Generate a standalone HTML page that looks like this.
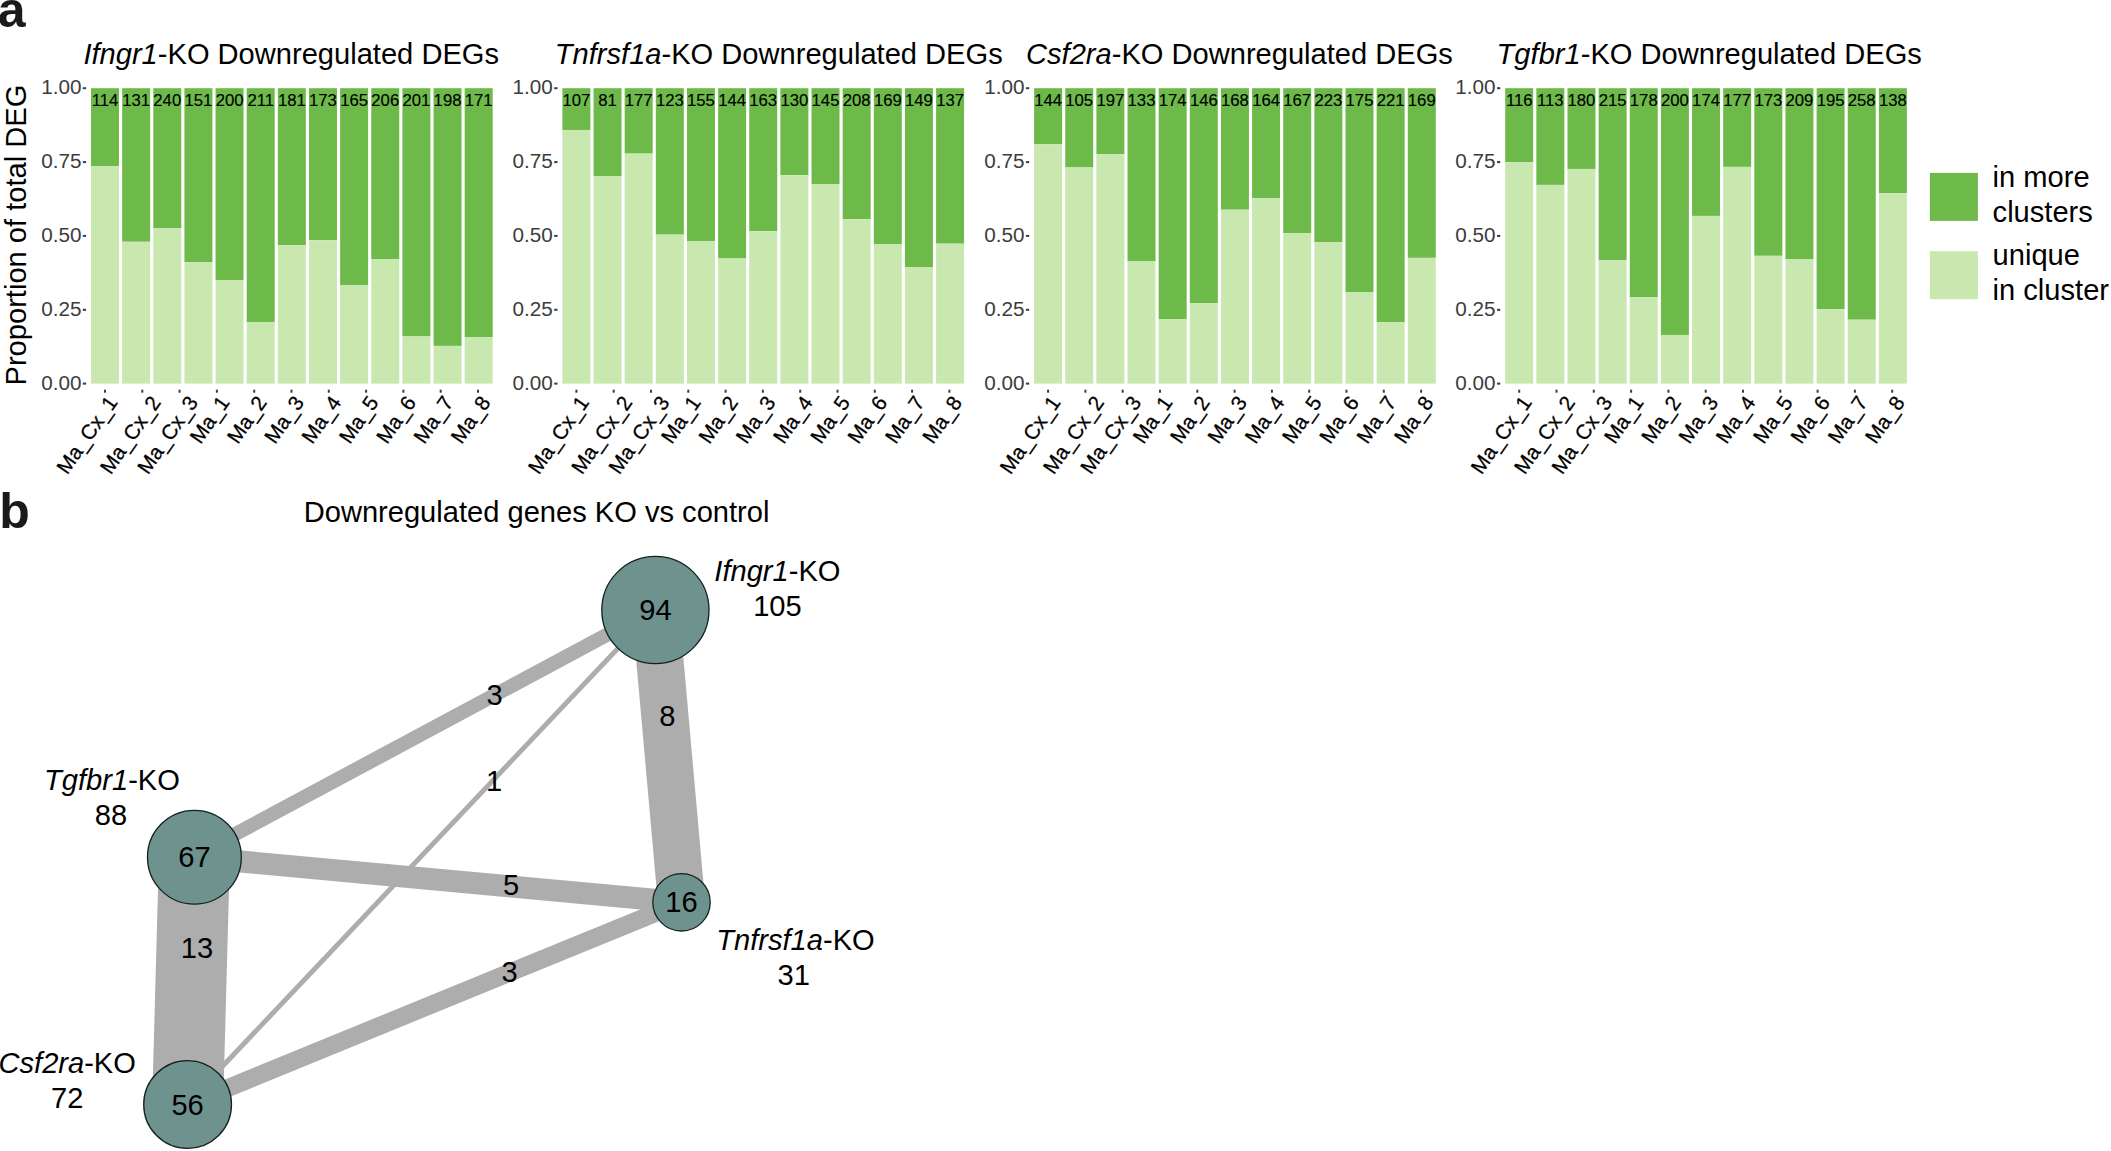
<!DOCTYPE html>
<html lang="en"><head><meta charset="utf-8"><title>Figure</title>
<style>
html,body{margin:0;padding:0;background:#fff;}
body{width:2111px;height:1151px;overflow:hidden;}
svg{display:block;font-family:"Liberation Sans", Arial, Helvetica, sans-serif;}
.t{font-size:29.1px;fill:#000;}
.i{font-style:italic;}
.yl{font-size:20.7px;fill:#3d3d3d;text-anchor:end;}
.c{font-size:16.7px;fill:#000;stroke:#000;stroke-width:0.15px;text-anchor:middle;}
.xl{font-size:20.8px;fill:#000;stroke:#000;stroke-width:0.25px;text-anchor:end;}
.pl{font-size:50px;font-weight:bold;fill:#1a1a1a;}
.lg{font-size:29.1px;fill:#000;}
.n{font-size:29.1px;fill:#000;text-anchor:middle;}
</style></head><body>
<svg width="2111" height="1151" viewBox="0 0 2111 1151">
<rect x="0" y="0" width="2111" height="1151" fill="#ffffff"/>
<text class="pl" x="-2.3" y="26.8">a</text>
<text class="pl" x="-0.8" y="528.1">b</text>
<text class="t" transform="translate(26.3,235.1) rotate(-90)" text-anchor="middle">Proportion of total DEG</text>
<g>
<text class="t" x="83.4" y="63.8"><tspan class="i">Ifngr1</tspan>-KO Downregulated DEGs</text>
<text class="yl" x="81.4" y="389.6">0.00</text>
<rect x="82.8" y="382.6" width="3.3" height="2" fill="#3d3d3d"/>
<text class="yl" x="81.4" y="315.8">0.25</text>
<rect x="82.8" y="308.8" width="3.3" height="2" fill="#3d3d3d"/>
<text class="yl" x="81.4" y="241.9">0.50</text>
<rect x="82.8" y="234.9" width="3.3" height="2" fill="#3d3d3d"/>
<text class="yl" x="81.4" y="168.1">0.75</text>
<rect x="82.8" y="161.1" width="3.3" height="2" fill="#3d3d3d"/>
<text class="yl" x="81.4" y="94.2">1.00</text>
<rect x="82.8" y="87.2" width="3.3" height="2" fill="#3d3d3d"/>
<rect x="91.00" y="88.20" width="28.00" height="77.79" fill="#6dba4a"/>
<rect x="91.00" y="165.99" width="28.00" height="217.61" fill="#c9e8b0"/>
<text class="c" x="105.00" y="106">114</text>
<rect x="122.14" y="88.20" width="28.00" height="153.56" fill="#6dba4a"/>
<rect x="122.14" y="241.76" width="28.00" height="141.84" fill="#c9e8b0"/>
<text class="c" x="136.14" y="106">131</text>
<rect x="153.28" y="88.20" width="28.00" height="140.12" fill="#6dba4a"/>
<rect x="153.28" y="228.32" width="28.00" height="155.28" fill="#c9e8b0"/>
<text class="c" x="167.28" y="106">240</text>
<rect x="184.42" y="88.20" width="28.00" height="173.80" fill="#6dba4a"/>
<rect x="184.42" y="262.00" width="28.00" height="121.60" fill="#c9e8b0"/>
<text class="c" x="198.42" y="106">151</text>
<rect x="215.56" y="88.20" width="28.00" height="191.82" fill="#6dba4a"/>
<rect x="215.56" y="280.02" width="28.00" height="103.58" fill="#c9e8b0"/>
<text class="c" x="229.56" y="106">200</text>
<rect x="246.70" y="88.20" width="28.00" height="233.77" fill="#6dba4a"/>
<rect x="246.70" y="321.97" width="28.00" height="61.63" fill="#c9e8b0"/>
<text class="c" x="260.70" y="106">211</text>
<rect x="277.84" y="88.20" width="28.00" height="156.96" fill="#6dba4a"/>
<rect x="277.84" y="245.16" width="28.00" height="138.44" fill="#c9e8b0"/>
<text class="c" x="291.84" y="106">181</text>
<rect x="308.98" y="88.20" width="28.00" height="151.94" fill="#6dba4a"/>
<rect x="308.98" y="240.14" width="28.00" height="143.46" fill="#c9e8b0"/>
<text class="c" x="322.98" y="106">173</text>
<rect x="340.12" y="88.20" width="28.00" height="196.84" fill="#6dba4a"/>
<rect x="340.12" y="285.04" width="28.00" height="98.56" fill="#c9e8b0"/>
<text class="c" x="354.12" y="106">165</text>
<rect x="371.26" y="88.20" width="28.00" height="170.85" fill="#6dba4a"/>
<rect x="371.26" y="259.05" width="28.00" height="124.55" fill="#c9e8b0"/>
<text class="c" x="385.26" y="106">206</text>
<rect x="402.40" y="88.20" width="28.00" height="248.24" fill="#6dba4a"/>
<rect x="402.40" y="336.44" width="28.00" height="47.16" fill="#c9e8b0"/>
<text class="c" x="416.40" y="106">201</text>
<rect x="433.54" y="88.20" width="28.00" height="257.69" fill="#6dba4a"/>
<rect x="433.54" y="345.89" width="28.00" height="37.71" fill="#c9e8b0"/>
<text class="c" x="447.54" y="106">198</text>
<rect x="464.68" y="88.20" width="28.00" height="248.83" fill="#6dba4a"/>
<rect x="464.68" y="337.03" width="28.00" height="46.57" fill="#c9e8b0"/>
<text class="c" x="478.68" y="106">171</text>
<rect x="104.0" y="389.7" width="2" height="3" fill="#3d3d3d"/>
<text class="xl" transform="translate(118.4,402.5) rotate(-55)">Ma_Cx_1</text>
<rect x="141.3" y="389.7" width="2" height="3" fill="#3d3d3d"/>
<text class="xl" transform="translate(161.7,402.5) rotate(-55)">Ma_Cx_2</text>
<rect x="178.6" y="389.7" width="2" height="3" fill="#3d3d3d"/>
<text class="xl" transform="translate(199.0,402.5) rotate(-55)">Ma_Cx_3</text>
<rect x="215.9" y="389.7" width="2" height="3" fill="#3d3d3d"/>
<text class="xl" transform="translate(230.3,402.5) rotate(-55)">Ma_1</text>
<rect x="253.2" y="389.7" width="2" height="3" fill="#3d3d3d"/>
<text class="xl" transform="translate(267.6,402.5) rotate(-55)">Ma_2</text>
<rect x="290.5" y="389.7" width="2" height="3" fill="#3d3d3d"/>
<text class="xl" transform="translate(304.9,402.5) rotate(-55)">Ma_3</text>
<rect x="327.8" y="389.7" width="2" height="3" fill="#3d3d3d"/>
<text class="xl" transform="translate(342.2,402.5) rotate(-55)">Ma_4</text>
<rect x="365.1" y="389.7" width="2" height="3" fill="#3d3d3d"/>
<text class="xl" transform="translate(379.5,402.5) rotate(-55)">Ma_5</text>
<rect x="402.4" y="389.7" width="2" height="3" fill="#3d3d3d"/>
<text class="xl" transform="translate(416.8,402.5) rotate(-55)">Ma_6</text>
<rect x="439.7" y="389.7" width="2" height="3" fill="#3d3d3d"/>
<text class="xl" transform="translate(454.1,402.5) rotate(-55)">Ma_7</text>
<rect x="477.0" y="389.7" width="2" height="3" fill="#3d3d3d"/>
<text class="xl" transform="translate(491.4,402.5) rotate(-55)">Ma_8</text>
</g>
<g>
<text class="t" x="554.8" y="63.8"><tspan class="i">Tnfrsf1a</tspan>-KO Downregulated DEGs</text>
<text class="yl" x="552.8" y="389.6">0.00</text>
<rect x="554.2" y="382.6" width="3.3" height="2" fill="#3d3d3d"/>
<text class="yl" x="552.8" y="315.8">0.25</text>
<rect x="554.2" y="308.8" width="3.3" height="2" fill="#3d3d3d"/>
<text class="yl" x="552.8" y="241.9">0.50</text>
<rect x="554.2" y="234.9" width="3.3" height="2" fill="#3d3d3d"/>
<text class="yl" x="552.8" y="168.1">0.75</text>
<rect x="554.2" y="161.1" width="3.3" height="2" fill="#3d3d3d"/>
<text class="yl" x="552.8" y="94.2">1.00</text>
<rect x="554.2" y="87.2" width="3.3" height="2" fill="#3d3d3d"/>
<rect x="562.40" y="88.20" width="28.00" height="41.76" fill="#6dba4a"/>
<rect x="562.40" y="129.96" width="28.00" height="253.64" fill="#c9e8b0"/>
<text class="c" x="576.40" y="106">107</text>
<rect x="593.54" y="88.20" width="28.00" height="87.84" fill="#6dba4a"/>
<rect x="593.54" y="176.04" width="28.00" height="207.56" fill="#c9e8b0"/>
<text class="c" x="607.54" y="106">81</text>
<rect x="624.68" y="88.20" width="28.00" height="65.39" fill="#6dba4a"/>
<rect x="624.68" y="153.59" width="28.00" height="230.01" fill="#c9e8b0"/>
<text class="c" x="638.68" y="106">177</text>
<rect x="655.82" y="88.20" width="28.00" height="146.45" fill="#6dba4a"/>
<rect x="655.82" y="234.65" width="28.00" height="148.95" fill="#c9e8b0"/>
<text class="c" x="669.82" y="106">123</text>
<rect x="686.96" y="88.20" width="28.00" height="152.83" fill="#6dba4a"/>
<rect x="686.96" y="241.03" width="28.00" height="142.57" fill="#c9e8b0"/>
<text class="c" x="700.96" y="106">155</text>
<rect x="718.10" y="88.20" width="28.00" height="170.25" fill="#6dba4a"/>
<rect x="718.10" y="258.45" width="28.00" height="125.15" fill="#c9e8b0"/>
<text class="c" x="732.10" y="106">144</text>
<rect x="749.24" y="88.20" width="28.00" height="143.08" fill="#6dba4a"/>
<rect x="749.24" y="231.28" width="28.00" height="152.32" fill="#c9e8b0"/>
<text class="c" x="763.24" y="106">163</text>
<rect x="780.38" y="88.20" width="28.00" height="86.95" fill="#6dba4a"/>
<rect x="780.38" y="175.15" width="28.00" height="208.45" fill="#c9e8b0"/>
<text class="c" x="794.38" y="106">130</text>
<rect x="811.52" y="88.20" width="28.00" height="95.81" fill="#6dba4a"/>
<rect x="811.52" y="184.01" width="28.00" height="199.59" fill="#c9e8b0"/>
<text class="c" x="825.52" y="106">145</text>
<rect x="842.66" y="88.20" width="28.00" height="130.97" fill="#6dba4a"/>
<rect x="842.66" y="219.17" width="28.00" height="164.43" fill="#c9e8b0"/>
<text class="c" x="856.66" y="106">208</text>
<rect x="873.80" y="88.20" width="28.00" height="155.78" fill="#6dba4a"/>
<rect x="873.80" y="243.98" width="28.00" height="139.62" fill="#c9e8b0"/>
<text class="c" x="887.80" y="106">169</text>
<rect x="904.94" y="88.20" width="28.00" height="178.82" fill="#6dba4a"/>
<rect x="904.94" y="267.02" width="28.00" height="116.58" fill="#c9e8b0"/>
<text class="c" x="918.94" y="106">149</text>
<rect x="936.08" y="88.20" width="28.00" height="155.49" fill="#6dba4a"/>
<rect x="936.08" y="243.69" width="28.00" height="139.91" fill="#c9e8b0"/>
<text class="c" x="950.08" y="106">137</text>
<rect x="575.4" y="389.7" width="2" height="3" fill="#3d3d3d"/>
<text class="xl" transform="translate(589.8,402.5) rotate(-55)">Ma_Cx_1</text>
<rect x="612.7" y="389.7" width="2" height="3" fill="#3d3d3d"/>
<text class="xl" transform="translate(633.1,402.5) rotate(-55)">Ma_Cx_2</text>
<rect x="650.0" y="389.7" width="2" height="3" fill="#3d3d3d"/>
<text class="xl" transform="translate(670.4,402.5) rotate(-55)">Ma_Cx_3</text>
<rect x="687.3" y="389.7" width="2" height="3" fill="#3d3d3d"/>
<text class="xl" transform="translate(701.7,402.5) rotate(-55)">Ma_1</text>
<rect x="724.6" y="389.7" width="2" height="3" fill="#3d3d3d"/>
<text class="xl" transform="translate(739.0,402.5) rotate(-55)">Ma_2</text>
<rect x="761.9" y="389.7" width="2" height="3" fill="#3d3d3d"/>
<text class="xl" transform="translate(776.3,402.5) rotate(-55)">Ma_3</text>
<rect x="799.2" y="389.7" width="2" height="3" fill="#3d3d3d"/>
<text class="xl" transform="translate(813.6,402.5) rotate(-55)">Ma_4</text>
<rect x="836.5" y="389.7" width="2" height="3" fill="#3d3d3d"/>
<text class="xl" transform="translate(850.9,402.5) rotate(-55)">Ma_5</text>
<rect x="873.8" y="389.7" width="2" height="3" fill="#3d3d3d"/>
<text class="xl" transform="translate(888.2,402.5) rotate(-55)">Ma_6</text>
<rect x="911.1" y="389.7" width="2" height="3" fill="#3d3d3d"/>
<text class="xl" transform="translate(925.5,402.5) rotate(-55)">Ma_7</text>
<rect x="948.4" y="389.7" width="2" height="3" fill="#3d3d3d"/>
<text class="xl" transform="translate(962.8,402.5) rotate(-55)">Ma_8</text>
</g>
<g>
<text class="t" x="1026.0" y="63.8"><tspan class="i">Csf2ra</tspan>-KO Downregulated DEGs</text>
<text class="yl" x="1024.5" y="389.6">0.00</text>
<rect x="1025.9" y="382.6" width="3.3" height="2" fill="#3d3d3d"/>
<text class="yl" x="1024.5" y="315.8">0.25</text>
<rect x="1025.9" y="308.8" width="3.3" height="2" fill="#3d3d3d"/>
<text class="yl" x="1024.5" y="241.9">0.50</text>
<rect x="1025.9" y="234.9" width="3.3" height="2" fill="#3d3d3d"/>
<text class="yl" x="1024.5" y="168.1">0.75</text>
<rect x="1025.9" y="161.1" width="3.3" height="2" fill="#3d3d3d"/>
<text class="yl" x="1024.5" y="94.2">1.00</text>
<rect x="1025.9" y="87.2" width="3.3" height="2" fill="#3d3d3d"/>
<rect x="1034.10" y="88.20" width="28.00" height="55.94" fill="#6dba4a"/>
<rect x="1034.10" y="144.14" width="28.00" height="239.46" fill="#c9e8b0"/>
<text class="c" x="1048.10" y="106">144</text>
<rect x="1065.24" y="88.20" width="28.00" height="79.27" fill="#6dba4a"/>
<rect x="1065.24" y="167.47" width="28.00" height="216.13" fill="#c9e8b0"/>
<text class="c" x="1079.24" y="106">105</text>
<rect x="1096.38" y="88.20" width="28.00" height="65.98" fill="#6dba4a"/>
<rect x="1096.38" y="154.18" width="28.00" height="229.42" fill="#c9e8b0"/>
<text class="c" x="1110.38" y="106">197</text>
<rect x="1127.52" y="88.20" width="28.00" height="173.21" fill="#6dba4a"/>
<rect x="1127.52" y="261.41" width="28.00" height="122.19" fill="#c9e8b0"/>
<text class="c" x="1141.52" y="106">133</text>
<rect x="1158.66" y="88.20" width="28.00" height="231.11" fill="#6dba4a"/>
<rect x="1158.66" y="319.31" width="28.00" height="64.29" fill="#c9e8b0"/>
<text class="c" x="1172.66" y="106">174</text>
<rect x="1189.80" y="88.20" width="28.00" height="214.86" fill="#6dba4a"/>
<rect x="1189.80" y="303.06" width="28.00" height="80.54" fill="#c9e8b0"/>
<text class="c" x="1203.80" y="106">146</text>
<rect x="1220.94" y="88.20" width="28.00" height="121.51" fill="#6dba4a"/>
<rect x="1220.94" y="209.71" width="28.00" height="173.89" fill="#c9e8b0"/>
<text class="c" x="1234.94" y="106">168</text>
<rect x="1252.08" y="88.20" width="28.00" height="109.99" fill="#6dba4a"/>
<rect x="1252.08" y="198.19" width="28.00" height="185.41" fill="#c9e8b0"/>
<text class="c" x="1266.08" y="106">164</text>
<rect x="1283.22" y="88.20" width="28.00" height="145.15" fill="#6dba4a"/>
<rect x="1283.22" y="233.35" width="28.00" height="150.25" fill="#c9e8b0"/>
<text class="c" x="1297.22" y="106">167</text>
<rect x="1314.36" y="88.20" width="28.00" height="153.83" fill="#6dba4a"/>
<rect x="1314.36" y="242.03" width="28.00" height="141.57" fill="#c9e8b0"/>
<text class="c" x="1328.36" y="106">223</text>
<rect x="1345.50" y="88.20" width="28.00" height="204.23" fill="#6dba4a"/>
<rect x="1345.50" y="292.43" width="28.00" height="91.17" fill="#c9e8b0"/>
<text class="c" x="1359.50" y="106">175</text>
<rect x="1376.64" y="88.20" width="28.00" height="234.06" fill="#6dba4a"/>
<rect x="1376.64" y="322.26" width="28.00" height="61.34" fill="#c9e8b0"/>
<text class="c" x="1390.64" y="106">221</text>
<rect x="1407.78" y="88.20" width="28.00" height="169.66" fill="#6dba4a"/>
<rect x="1407.78" y="257.86" width="28.00" height="125.74" fill="#c9e8b0"/>
<text class="c" x="1421.78" y="106">169</text>
<rect x="1047.1" y="389.7" width="2" height="3" fill="#3d3d3d"/>
<text class="xl" transform="translate(1061.5,402.5) rotate(-55)">Ma_Cx_1</text>
<rect x="1084.4" y="389.7" width="2" height="3" fill="#3d3d3d"/>
<text class="xl" transform="translate(1104.8,402.5) rotate(-55)">Ma_Cx_2</text>
<rect x="1121.7" y="389.7" width="2" height="3" fill="#3d3d3d"/>
<text class="xl" transform="translate(1142.1,402.5) rotate(-55)">Ma_Cx_3</text>
<rect x="1159.0" y="389.7" width="2" height="3" fill="#3d3d3d"/>
<text class="xl" transform="translate(1173.4,402.5) rotate(-55)">Ma_1</text>
<rect x="1196.3" y="389.7" width="2" height="3" fill="#3d3d3d"/>
<text class="xl" transform="translate(1210.7,402.5) rotate(-55)">Ma_2</text>
<rect x="1233.6" y="389.7" width="2" height="3" fill="#3d3d3d"/>
<text class="xl" transform="translate(1248.0,402.5) rotate(-55)">Ma_3</text>
<rect x="1270.9" y="389.7" width="2" height="3" fill="#3d3d3d"/>
<text class="xl" transform="translate(1285.3,402.5) rotate(-55)">Ma_4</text>
<rect x="1308.2" y="389.7" width="2" height="3" fill="#3d3d3d"/>
<text class="xl" transform="translate(1322.6,402.5) rotate(-55)">Ma_5</text>
<rect x="1345.5" y="389.7" width="2" height="3" fill="#3d3d3d"/>
<text class="xl" transform="translate(1359.9,402.5) rotate(-55)">Ma_6</text>
<rect x="1382.8" y="389.7" width="2" height="3" fill="#3d3d3d"/>
<text class="xl" transform="translate(1397.2,402.5) rotate(-55)">Ma_7</text>
<rect x="1420.1" y="389.7" width="2" height="3" fill="#3d3d3d"/>
<text class="xl" transform="translate(1434.5,402.5) rotate(-55)">Ma_8</text>
</g>
<g>
<text class="t" x="1496.6" y="63.8"><tspan class="i">Tgfbr1</tspan>-KO Downregulated DEGs</text>
<text class="yl" x="1495.6" y="389.6">0.00</text>
<rect x="1497.0" y="382.6" width="3.3" height="2" fill="#3d3d3d"/>
<text class="yl" x="1495.6" y="315.8">0.25</text>
<rect x="1497.0" y="308.8" width="3.3" height="2" fill="#3d3d3d"/>
<text class="yl" x="1495.6" y="241.9">0.50</text>
<rect x="1497.0" y="234.9" width="3.3" height="2" fill="#3d3d3d"/>
<text class="yl" x="1495.6" y="168.1">0.75</text>
<rect x="1497.0" y="161.1" width="3.3" height="2" fill="#3d3d3d"/>
<text class="yl" x="1495.6" y="94.2">1.00</text>
<rect x="1497.0" y="87.2" width="3.3" height="2" fill="#3d3d3d"/>
<rect x="1505.20" y="88.20" width="28.00" height="73.95" fill="#6dba4a"/>
<rect x="1505.20" y="162.15" width="28.00" height="221.45" fill="#c9e8b0"/>
<text class="c" x="1519.20" y="106">116</text>
<rect x="1536.34" y="88.20" width="28.00" height="96.70" fill="#6dba4a"/>
<rect x="1536.34" y="184.90" width="28.00" height="198.70" fill="#c9e8b0"/>
<text class="c" x="1550.34" y="106">113</text>
<rect x="1567.48" y="88.20" width="28.00" height="80.75" fill="#6dba4a"/>
<rect x="1567.48" y="168.95" width="28.00" height="214.65" fill="#c9e8b0"/>
<text class="c" x="1581.48" y="106">180</text>
<rect x="1598.62" y="88.20" width="28.00" height="172.03" fill="#6dba4a"/>
<rect x="1598.62" y="260.23" width="28.00" height="123.37" fill="#c9e8b0"/>
<text class="c" x="1612.62" y="106">215</text>
<rect x="1629.76" y="88.20" width="28.00" height="209.10" fill="#6dba4a"/>
<rect x="1629.76" y="297.30" width="28.00" height="86.30" fill="#c9e8b0"/>
<text class="c" x="1643.76" y="106">178</text>
<rect x="1660.90" y="88.20" width="28.00" height="246.76" fill="#6dba4a"/>
<rect x="1660.90" y="334.96" width="28.00" height="48.64" fill="#c9e8b0"/>
<text class="c" x="1674.90" y="106">200</text>
<rect x="1692.04" y="88.20" width="28.00" height="127.72" fill="#6dba4a"/>
<rect x="1692.04" y="215.92" width="28.00" height="167.68" fill="#c9e8b0"/>
<text class="c" x="1706.04" y="106">174</text>
<rect x="1723.18" y="88.20" width="28.00" height="78.68" fill="#6dba4a"/>
<rect x="1723.18" y="166.88" width="28.00" height="216.72" fill="#c9e8b0"/>
<text class="c" x="1737.18" y="106">177</text>
<rect x="1754.32" y="88.20" width="28.00" height="167.60" fill="#6dba4a"/>
<rect x="1754.32" y="255.80" width="28.00" height="127.80" fill="#c9e8b0"/>
<text class="c" x="1768.32" y="106">173</text>
<rect x="1785.46" y="88.20" width="28.00" height="171.14" fill="#6dba4a"/>
<rect x="1785.46" y="259.34" width="28.00" height="124.26" fill="#c9e8b0"/>
<text class="c" x="1799.46" y="106">209</text>
<rect x="1816.60" y="88.20" width="28.00" height="221.06" fill="#6dba4a"/>
<rect x="1816.60" y="309.26" width="28.00" height="74.34" fill="#c9e8b0"/>
<text class="c" x="1830.60" y="106">195</text>
<rect x="1847.74" y="88.20" width="28.00" height="231.52" fill="#6dba4a"/>
<rect x="1847.74" y="319.72" width="28.00" height="63.88" fill="#c9e8b0"/>
<text class="c" x="1861.74" y="106">258</text>
<rect x="1878.88" y="88.20" width="28.00" height="104.97" fill="#6dba4a"/>
<rect x="1878.88" y="193.17" width="28.00" height="190.43" fill="#c9e8b0"/>
<text class="c" x="1892.88" y="106">138</text>
<rect x="1518.2" y="389.7" width="2" height="3" fill="#3d3d3d"/>
<text class="xl" transform="translate(1532.6,402.5) rotate(-55)">Ma_Cx_1</text>
<rect x="1555.5" y="389.7" width="2" height="3" fill="#3d3d3d"/>
<text class="xl" transform="translate(1575.9,402.5) rotate(-55)">Ma_Cx_2</text>
<rect x="1592.8" y="389.7" width="2" height="3" fill="#3d3d3d"/>
<text class="xl" transform="translate(1613.2,402.5) rotate(-55)">Ma_Cx_3</text>
<rect x="1630.1" y="389.7" width="2" height="3" fill="#3d3d3d"/>
<text class="xl" transform="translate(1644.5,402.5) rotate(-55)">Ma_1</text>
<rect x="1667.4" y="389.7" width="2" height="3" fill="#3d3d3d"/>
<text class="xl" transform="translate(1681.8,402.5) rotate(-55)">Ma_2</text>
<rect x="1704.7" y="389.7" width="2" height="3" fill="#3d3d3d"/>
<text class="xl" transform="translate(1719.1,402.5) rotate(-55)">Ma_3</text>
<rect x="1742.0" y="389.7" width="2" height="3" fill="#3d3d3d"/>
<text class="xl" transform="translate(1756.4,402.5) rotate(-55)">Ma_4</text>
<rect x="1779.3" y="389.7" width="2" height="3" fill="#3d3d3d"/>
<text class="xl" transform="translate(1793.7,402.5) rotate(-55)">Ma_5</text>
<rect x="1816.6" y="389.7" width="2" height="3" fill="#3d3d3d"/>
<text class="xl" transform="translate(1831.0,402.5) rotate(-55)">Ma_6</text>
<rect x="1853.9" y="389.7" width="2" height="3" fill="#3d3d3d"/>
<text class="xl" transform="translate(1868.3,402.5) rotate(-55)">Ma_7</text>
<rect x="1891.2" y="389.7" width="2" height="3" fill="#3d3d3d"/>
<text class="xl" transform="translate(1905.6,402.5) rotate(-55)">Ma_8</text>
</g>
<rect x="1929.9" y="172.9" width="48" height="48" fill="#6dba4a"/>
<rect x="1929.9" y="251.2" width="48" height="48" fill="#c9e8b0"/>
<text class="lg" x="1992.6" y="187.3">in more</text>
<text class="lg" x="1992.6" y="221.8">clusters</text>
<text class="lg" x="1992.6" y="265.2">unique</text>
<text class="lg" x="1992.6" y="300.0">in cluster</text>
<text class="lg" x="303.7" y="522">Downregulated genes KO vs control</text>
<line x1="194.4" y1="856.0" x2="655.4" y2="608.8" stroke="#adadad" stroke-width="14.2"/>
<line x1="187.6" y1="1103.2" x2="655.4" y2="608.7" stroke="#adadad" stroke-width="4.9"/>
<line x1="655.4" y1="610.0" x2="681.5" y2="902.3" stroke="#adadad" stroke-width="47.2"/>
<line x1="194.4" y1="857.2" x2="681.5" y2="902.3" stroke="#adadad" stroke-width="22.0"/>
<line x1="194.4" y1="857.2" x2="187.6" y2="1104.5" stroke="#adadad" stroke-width="71.0"/>
<line x1="187.6" y1="1104.5" x2="681.5" y2="902.3" stroke="#adadad" stroke-width="18.0"/>
<text class="n" x="494.5" y="705.4">3</text>
<text class="n" x="494.0" y="790.7">1</text>
<text class="n" x="667.3" y="725.9">8</text>
<text class="n" x="511.2" y="894.8">5</text>
<text class="n" x="197.0" y="958.2">13</text>
<text class="n" x="509.5" y="981.7">3</text>
<circle cx="655.4" cy="610.0" r="53.6" fill="#6e928e" stroke="#12201f" stroke-width="1.3"/>
<text class="n" x="655.4" y="620.0">94</text>
<circle cx="194.4" cy="857.2" r="46.9" fill="#6e928e" stroke="#12201f" stroke-width="1.3"/>
<text class="n" x="194.4" y="867.2">67</text>
<circle cx="187.6" cy="1104.5" r="43.9" fill="#6e928e" stroke="#12201f" stroke-width="1.3"/>
<text class="n" x="187.6" y="1114.5">56</text>
<circle cx="681.5" cy="902.3" r="28.7" fill="#6e928e" stroke="#12201f" stroke-width="1.3"/>
<text class="n" x="681.5" y="912.3">16</text>
<text class="n" x="777.4" y="580.7"><tspan class="i">Ifngr1</tspan>-KO</text>
<text class="n" x="777.4" y="615.6">105</text>
<text class="n" x="112.0" y="790.2"><tspan class="i">Tgfbr1</tspan>-KO</text>
<text class="n" x="110.9" y="825.1">88</text>
<text class="n" x="67.2" y="1073.1"><tspan class="i">Csf2ra</tspan>-KO</text>
<text class="n" x="67.2" y="1108.0">72</text>
<text class="n" x="795.5" y="950.0"><tspan class="i">Tnfrsf1a</tspan>-KO</text>
<text class="n" x="793.8" y="984.9">31</text>
</svg></body></html>
